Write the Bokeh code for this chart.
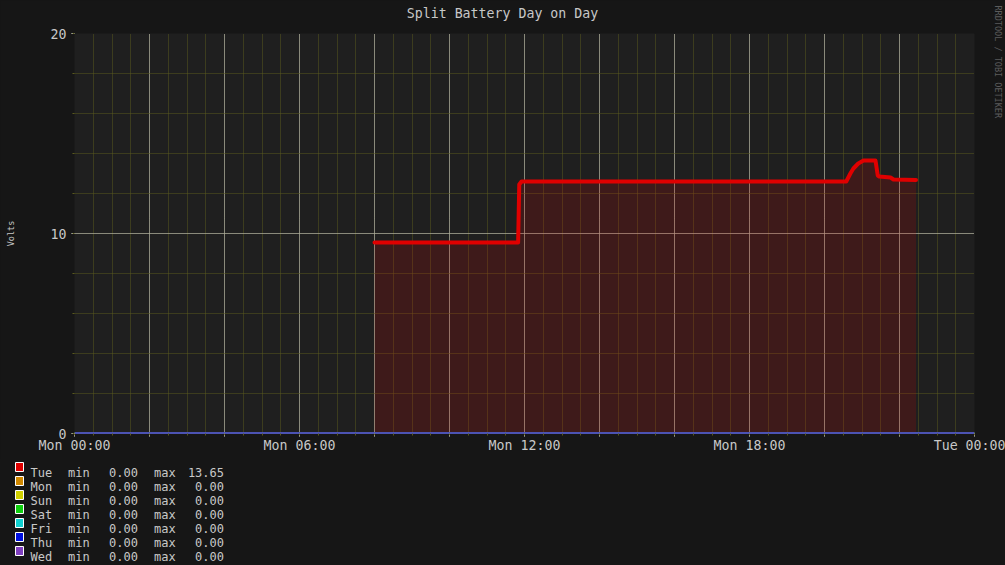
import math
from bokeh.plotting import figure
from bokeh.layouts import column, row
from bokeh.models import Range1d, FixedTicker, LinearAxis, Title
from bokeh.core.properties import value
from bokeh.embed import file_html
from bokeh.resources import INLINE

# ---------------- data ----------------
days = ["Tue", "Mon", "Sun", "Sat", "Fri", "Thu", "Wed"]
day_colors = ["#e00000", "#d08800", "#d0d000", "#10d010", "#10d0d0", "#0010e0", "#7f3fbf"]
day_min = [0.00, 0.00, 0.00, 0.00, 0.00, 0.00, 0.00]
day_max = [13.65, 0.00, 0.00, 0.00, 0.00, 0.00, 0.00]

tue_hours = [8.00, 11.83, 11.86, 11.92, 20.58, 20.69, 20.77, 20.90, 21.04, 21.36, 21.42, 21.46, 21.76, 21.84, 22.44]
tue_volts = [9.55, 9.55, 12.45, 12.60, 12.60, 13.00, 13.25, 13.50, 13.65, 13.65, 12.90, 12.85, 12.80, 12.70, 12.68]

zero_hours = [0.0, 24.0]
zero_volts = [0.0, 0.0]

x_tick_hours = [0, 6, 12, 18, 24]
x_tick_labels = ["Mon 00:00", "Mon 06:00", "Mon 12:00", "Mon 18:00", "Tue 00:00"]
y_ticks = [0, 10, 20]

title_text = "Split Battery Day on Day"
y_label = "Volts"
watermark = "RRDTOOL / TOBI OETIKER"

# ---------------- layout ----------------
W = 1005
H_MAIN, H_LEG = 458, 107
FL, FT, FW, FH = 74, 33, 900, 400
X0, X1, Y0, Y1 = 0.0, 24.0, 0.0, 20.0

FONT = "DejaVu Sans Mono"
TXT = "#c8c8c8"
MAJOR = "#d8d8d8"
MINOR = "#5a5a1e"
BG_OUT = "#161616"
BG_PLOT = "#1f1f1f"
LABEL_SIZE = "13.25px"
DARK_HOST = [":host { background-color: #161616; }"]

p = figure(width=W, height=H_MAIN, x_range=Range1d(X0, X1), y_range=Range1d(Y0, Y1),
           output_backend="svg", toolbar_location=None,
           min_border_left=FL, min_border_top=FT,
           min_border_right=W - FL - FW, min_border_bottom=H_MAIN - FT - FH)
p.background_fill_color = BG_PLOT
p.border_fill_color = BG_OUT
p.outline_line_color = None
xa = p.xaxis[0]
ya = p.yaxis[0]

# title via a pixel-positioned helper axis on top
p.extra_x_ranges = {"px": Range1d(FL, FL + FW)}
TITLE_X = 502
title_axis = LinearAxis(x_range_name="px", ticker=FixedTicker(ticks=[TITLE_X]),
                        major_label_overrides={TITLE_X: title_text})
title_axis.axis_line_color = None
title_axis.major_tick_line_color = None
title_axis.minor_tick_line_color = None
title_axis.major_tick_in = 0
title_axis.major_tick_out = 0
title_axis.minor_tick_in = 0
title_axis.minor_tick_out = 0
title_axis.major_label_text_font = FONT
title_axis.major_label_text_font_size = LABEL_SIZE
title_axis.major_label_text_color = TXT
title_axis.major_label_standoff = 13
p.add_layout(title_axis, "above")

# vertical credit on the right (spacer panel + rotated title)
p.add_layout(Title(text=" ", standoff=3, text_font=FONT, text_font_size="8.5px",
                   text_font_style="normal", text_color=BG_OUT), "right")
p.add_layout(Title(text=watermark, align="left", vertical_align="middle", offset=-28, standoff=4,
                   text_font=FONT, text_font_size="8.5px", text_font_style="normal",
                   text_color="#5c5c5c"), "right")

# grids
major_x = [h for h in range(0, 25, 2)]
minor_x = [h * 0.5 for h in range(0, 49)]
major_y = [0, 10, 20]
minor_y = [v for v in range(0, 21, 2)]
p.xgrid.ticker = FixedTicker(ticks=major_x, minor_ticks=minor_x)
p.ygrid.ticker = FixedTicker(ticks=major_y, minor_ticks=minor_y)
for g in (p.xgrid, p.ygrid):
    g.grid_line_color = MAJOR
    g.grid_line_dash = "1 1"
    g.minor_grid_line_color = MINOR
    g.minor_grid_line_dash = "1 1"

# axes
overrides = {h: "" for h in major_x}
for h, lab in zip(x_tick_hours, x_tick_labels):
    overrides[h] = lab
xa.ticker = FixedTicker(ticks=major_x, minor_ticks=minor_x)
xa.major_label_overrides = overrides
ya.ticker = FixedTicker(ticks=y_ticks, minor_ticks=minor_y)
for ax in (xa, ya):
    ax.axis_line_color = None
    ax.major_tick_line_color = MAJOR
    ax.major_tick_in = 0
    ax.major_tick_out = 3
    ax.minor_tick_line_color = MINOR
    ax.minor_tick_in = 0
    ax.minor_tick_out = 2
    ax.major_label_text_font = FONT
    ax.major_label_text_font_size = LABEL_SIZE
    ax.major_label_text_color = TXT
xa.major_label_standoff = 1
ya.major_label_standoff = 5
ya.axis_label = y_label
ya.axis_label_text_font = FONT
ya.axis_label_text_font_size = "8.5px"
ya.axis_label_text_font_style = "normal"
ya.axis_label_text_color = TXT
ya.axis_label_standoff = 32

# series: Tue area + line, then the flat days
p.varea(x=tue_hours, y1=[0] * len(tue_hours), y2=tue_volts, fill_color=day_colors[0], fill_alpha=0.16)
p.line(x=tue_hours, y=tue_volts, line_color=day_colors[0], line_width=4, line_join="round", line_cap="round")
for c in day_colors[1:]:
    p.line(x=zero_hours, y=zero_volts, line_color=c, line_width=2)

# ---------------- legend strip ----------------
L_TOP = H_MAIN
leg = figure(width=W, height=H_LEG, x_range=Range1d(0, W), y_range=Range1d(L_TOP + H_LEG, L_TOP),
             output_backend="svg", toolbar_location=None,
             x_axis_location=None, y_axis_location=None,
             min_border=0, min_border_left=0, min_border_right=0, min_border_top=0, min_border_bottom=0)
leg.background_fill_color = BG_OUT
leg.border_fill_color = BG_OUT
leg.outline_line_color = None
leg.xgrid.visible = False
leg.ygrid.visible = False

ROW0, ROW_STEP = 472, 14
bases = [ROW0 + ROW_STEP * i for i in range(len(days))]
leg.quad(left=[15] * len(days), right=[23] * len(days), top=[b - 10 for b in bases], bottom=[b - 1 for b in bases],
         fill_color=day_colors, line_color="#ffffff", line_width=1)
text_style = dict(text_font=value(FONT), text_font_size="12px", text_color=TXT, text_baseline="alphabetic")
leg.text(x=[30] * len(days), y=bases, text=days, text_align="left", **text_style)
leg.text(x=[67.5] * len(days), y=bases, text=["min"] * len(days), text_align="left", **text_style)
leg.text(x=[137.5] * len(days), y=bases, text=["%.2f" % v for v in day_min], text_align="right", **text_style)
leg.text(x=[153.5] * len(days), y=bases, text=["max"] * len(days), text_align="left", **text_style)
leg.text(x=[223.5] * len(days), y=bases, text=["%.2f" % v for v in day_max], text_align="right", **text_style)

layout = column(p, row(leg, spacing=0, stylesheets=DARK_HOST), spacing=0, stylesheets=DARK_HOST)
open("out.html", "w").write(file_html(layout, INLINE))
